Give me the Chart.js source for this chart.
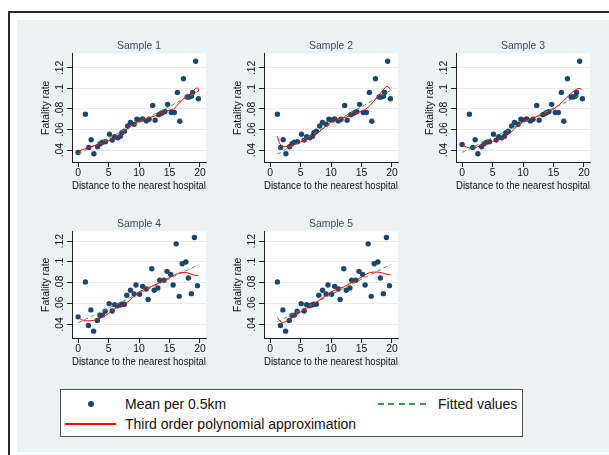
<!DOCTYPE html>
<html><head><meta charset="utf-8">
<script src="https://cdn.jsdelivr.net/npm/chart.js@4.4.0/dist/chart.umd.min.js"></script>
<style>
html,body{margin:0;padding:0;background:#fff;width:609px;height:455px;overflow:hidden;font-family:"Liberation Sans",Arial,sans-serif;}
#frame{position:absolute;left:8px;top:11px;width:640px;height:480px;border-left:2px solid #2a2a2a;border-top:2px solid #2a2a2a;}
#bg{position:absolute;left:17px;top:20px;width:600px;height:432px;background:#eaf2f3;}
canvas{position:absolute;}
#legend{position:absolute;left:60px;top:389px;width:463px;height:48px;background:#fff;border:1px solid #555;box-sizing:border-box;}
.lt{position:absolute;font-size:14px;color:#111;line-height:16px;white-space:nowrap;}
</style></head><body>
<div id="frame"></div>
<div id="bg"></div>
<canvas id="c1" width="180" height="160"></canvas>
<canvas id="c2" width="180" height="160"></canvas>
<canvas id="c3" width="180" height="160"></canvas>
<canvas id="c4" width="180" height="158"></canvas>
<canvas id="c5" width="180" height="158"></canvas>
<div id="legend">
  <div style="position:absolute;left:27px;top:11px;width:6px;height:6px;border-radius:50%;background:#1a476f;"></div>
  <div class="lt" style="left:64px;top:6px;">Mean per 0.5km</div>
  <div style="position:absolute;left:317px;top:13px;width:51px;height:1.5px;background:repeating-linear-gradient(to right,#3f9a3f 0 6px,transparent 6px 10.5px);"></div>
  <div class="lt" style="left:377px;top:6px;">Fitted values</div>
  <div style="position:absolute;left:4px;top:33px;width:51px;height:1.5px;background:#ff0000;"></div>
  <div class="lt" style="left:64px;top:26px;">Third order polynomial approximation</div>
</div>
<script>
// ---- tick labels ----
const xTickValues = [0, 5, 10, 15, 20];
const xTickLabels = ['0', '5', '10', '15', '20'];
const yTickValues = [0.04, 0.06, 0.08, 0.10, 0.12];
const yTickLabels = ['.04', '.06', '.08', '.1', '.12'];
const panelTitles = ['Sample 1', 'Sample 2', 'Sample 3', 'Sample 4', 'Sample 5'];

// ---- Sample 1 ----
const s1X = [0,1.2,1.75,2.15,2.6,3.2,3.6,4.0,4.5,5.15,5.6,6.0,6.5,6.95,7.2,7.6,8.15,8.6,9.2,9.65,10.1,10.6,11.2,11.65,12.25,12.65,13.25,13.6,13.9,14.25,14.7,15.3,15.8,16.3,16.7,17.3,17.9,18.25,18.6,18.8,19.3,19.75];
const s1Y = [0.0377,0.0748,0.0426,0.0500,0.0365,0.0432,0.0461,0.0477,0.0481,0.0555,0.0497,0.0529,0.0519,0.0535,0.0568,0.0584,0.0635,0.0668,0.0652,0.0700,0.0694,0.0703,0.0684,0.0700,0.0835,0.0690,0.0745,0.0755,0.0765,0.0774,0.0845,0.0765,0.0765,0.0961,0.0680,0.1094,0.0916,0.0916,0.0923,0.0960,0.1265,0.0900];
const poly1X = [0,1,2,3,4,5,6,7,8,9,10,11,12,13,14,15,15.7,16.5,17.5,18.5,19.2,19.6,19.8,19.6];
const poly1Y = [0.0385,0.041,0.043,0.045,0.047,0.049,0.052,0.055,0.060,0.065,0.068,0.070,0.072,0.074,0.077,0.079,0.080,0.085,0.091,0.095,0.0995,0.1005,0.0985,0.0965];
const fit1X = [0, 19.75];
const fit1Y = [0.0362, 0.0972];

// ---- Sample 2 ----
const s2X = [1.2,1.75,2.15,2.6,3.2,3.6,4.0,4.5,5.15,5.6,6.0,6.5,6.95,7.2,7.6,8.15,8.6,9.2,9.65,10.1,10.6,11.2,11.65,12.25,12.65,13.25,13.6,13.9,14.25,14.7,15.3,15.8,16.3,16.7,17.3,17.9,18.25,18.6,18.8,19.3,19.75];
const s2Y = [0.0748,0.0426,0.0500,0.0365,0.0432,0.0461,0.0477,0.0481,0.0555,0.0497,0.0529,0.0519,0.0535,0.0568,0.0584,0.0635,0.0668,0.0652,0.0700,0.0694,0.0703,0.0684,0.0700,0.0835,0.0690,0.0745,0.0755,0.0765,0.0774,0.0845,0.0765,0.0765,0.0961,0.0680,0.1094,0.0916,0.0916,0.0923,0.0960,0.1265,0.0900];
const poly2X = [1.2,1.6,2.2,2.8,3.5,4.5,5.5,6.5,7.5,8.5,9.5,10.5,11.5,12.5,13.5,14.5,15.5,16.5,17.5,18.5,19.2,19.75];
const poly2Y = [0.0535,0.046,0.0435,0.0435,0.0445,0.047,0.049,0.051,0.055,0.060,0.065,0.069,0.071,0.072,0.075,0.077,0.079,0.084,0.091,0.098,0.102,0.099];
const fit2X = [1.2, 19.75];
const fit2Y = [0.0360, 0.0980];

// ---- Sample 3 ----
const s3X = [0,1.2,1.75,2.15,2.6,3.2,3.6,4.0,4.5,5.15,5.6,6.0,6.5,6.95,7.2,7.6,8.15,8.6,9.2,9.65,10.1,10.6,11.2,11.65,12.25,12.65,13.25,13.6,13.9,14.25,14.7,15.3,15.8,16.3,16.7,17.3,17.9,18.25,18.6,18.8,19.3,19.75];
const s3Y = [0.0455,0.0748,0.0426,0.0500,0.0365,0.0432,0.0461,0.0477,0.0481,0.0555,0.0497,0.0529,0.0519,0.0535,0.0568,0.0584,0.0635,0.0668,0.0652,0.0700,0.0694,0.0703,0.0684,0.0700,0.0835,0.0690,0.0745,0.0755,0.0765,0.0774,0.0845,0.0765,0.0765,0.0961,0.0680,0.1094,0.0916,0.0916,0.0923,0.0960,0.1265,0.0900];
const poly3X = [0,0.5,1,1.5,2.5,3.5,4.5,5.5,6.5,7.5,8.5,9.5,10.5,11.5,12.5,13.5,14.5,15.5,16.5,17.5,18.5,19.2,19.75];
const poly3Y = [0.0454,0.0435,0.0425,0.0422,0.043,0.0455,0.048,0.049,0.051,0.055,0.060,0.066,0.069,0.071,0.073,0.075,0.078,0.082,0.087,0.093,0.098,0.100,0.0985];
const fit3X = [0, 19.75];
const fit3Y = [0.0378, 0.0945];

// ---- Sample 4 ----
const s4X = [0,1.2,1.7,2.1,2.55,3.15,3.6,4.0,4.45,5.1,5.6,6.0,6.45,6.9,7.2,7.6,8.0,8.6,9.2,9.5,10.1,10.6,11.2,11.5,12.1,12.5,13.1,13.4,14.1,14.6,15.2,15.6,16.1,16.6,17.1,17.7,18.1,18.6,19.1,19.6];
const s4Y = [0.0473,0.0808,0.0390,0.0540,0.0336,0.0438,0.0486,0.0490,0.0527,0.0600,0.0530,0.0591,0.0580,0.0588,0.0594,0.0594,0.0680,0.0728,0.0693,0.0779,0.0690,0.0766,0.0740,0.0640,0.0935,0.0728,0.0750,0.0824,0.0824,0.0910,0.0880,0.0779,0.1174,0.0670,0.0983,0.1000,0.0846,0.0696,0.1235,0.0773];
const poly4X = [0,0.6,1.2,2,3,4,5,6,7,8,9,10,11,12,13,14,15,16,17,18,19,19.75];
const poly4Y = [0.0467,0.0445,0.0435,0.0435,0.0445,0.047,0.0505,0.055,0.058,0.061,0.066,0.071,0.074,0.0765,0.079,0.082,0.085,0.088,0.090,0.0895,0.0875,0.0868];
const fit4X = [0, 19.75];
const fit4Y = [0.0416, 0.0973];

// ---- Sample 5 ----
const s5X = [1.2,1.7,2.1,2.55,3.15,3.6,4.0,4.45,5.1,5.6,6.0,6.45,6.9,7.2,7.6,8.0,8.6,9.2,9.5,10.1,10.6,11.2,11.5,12.1,12.5,13.1,13.4,14.1,14.6,15.2,15.6,16.1,16.6,17.1,17.7,18.1,18.6,19.1,19.6];
const s5Y = [0.0808,0.0390,0.0540,0.0336,0.0438,0.0486,0.0490,0.0527,0.0600,0.0530,0.0591,0.0580,0.0588,0.0594,0.0594,0.0680,0.0728,0.0693,0.0779,0.0690,0.0766,0.0740,0.0640,0.0935,0.0728,0.0750,0.0824,0.0824,0.0910,0.0880,0.0779,0.1174,0.0670,0.0983,0.1000,0.0846,0.0696,0.1235,0.0773];
const poly5X = [1.2,1.6,2,2.5,3,4,5,6,7,8,9,10,11,12,13,14,15,16,17,18,19,19.75];
const poly5Y = [0.0467,0.0435,0.042,0.0425,0.044,0.048,0.052,0.0555,0.059,0.063,0.067,0.071,0.074,0.076,0.079,0.082,0.0855,0.089,0.0903,0.090,0.0885,0.0875];
const fit5X = [1.2, 19.75];
const fit5Y = [0.0425, 0.0975];

// ---- layout (positions/styles only) ----
const FONT = '"Liberation Sans", Arial, sans-serif';
const layoutPanels = [
  {id:'c1', left:30,  top:36,  yMin:0.0284, yMax:0.1340},
  {id:'c2', left:222, top:36,  yMin:0.0284, yMax:0.1340},
  {id:'c3', left:414, top:36,  yMin:0.0284, yMax:0.1340},
  {id:'c4', left:30,  top:214, yMin:0.0270, yMax:0.1293},
  {id:'c5', left:222, top:214, yMin:0.0270, yMax:0.1293}
];
const seriesSets = [
  [s1X,s1Y,poly1X,poly1Y,fit1X,fit1Y],
  [s2X,s2Y,poly2X,poly2Y,fit2X,fit2Y],
  [s3X,s3Y,poly3X,poly3Y,fit3X,fit3Y],
  [s4X,s4Y,poly4X,poly4Y,fit4X,fit4Y],
  [s5X,s5Y,poly5X,poly5Y,fit5X,fit5Y]
];

const zip = (xs, ys) => xs.map((x, i) => ({x: x, y: ys[i]}));

const plotBg = {
  id: 'plotBg',
  beforeDraw(chart) {
    const a = chart.chartArea, ctx = chart.ctx;
    ctx.save(); ctx.fillStyle = '#ffffff';
    ctx.fillRect(a.left, a.top, a.right - a.left, a.bottom - a.top);
    ctx.restore();
  }
};

layoutPanels.forEach((p, k) => {
  const cv = document.getElementById(p.id);
  cv.style.left = p.left + 'px'; cv.style.top = p.top + 'px';
  const [px, py, lx, ly, fx, fy] = seriesSets[k];
  const tickFont = {family: FONT, size: 10.4};
  new Chart(cv, {
    type: 'scatter',
    data: {
      datasets: [
        {data: zip(lx, ly), showLine: true, borderColor: '#ff0000', borderWidth: 1, pointRadius: 0, tension: 0.35, order: 0},
        {data: zip(fx, fy), showLine: true, borderColor: '#3f9a3f', borderWidth: 1, borderDash: [4, 3], pointRadius: 0, order: 1},
        {data: zip(px, py), pointRadius: 2.7, pointBackgroundColor: '#1a476f', pointBorderWidth: 0, order: 2}
      ]
    },
    options: {
      responsive: false, animation: false, devicePixelRatio: 1,
      layout: {padding: {left: 0, right: 3, top: 0, bottom: 0}},
      plugins: {
        legend: {display: false}, tooltip: {enabled: false},
        title: {display: true, text: panelTitles[k], fullSize: false, color: '#3c4b5e',
                font: {family: FONT, size: 10.4, weight: 'normal'}, padding: {top: 4, bottom: 1}}
      },
      scales: {
        x: {
          type: 'linear', min: -1, max: 21,
          afterBuildTicks: s => { s.ticks = xTickValues.map(v => ({value: v})); },
          afterFit: s => { s.height = 34; },
          ticks: {autoSkip: false, maxRotation: 0, minRotation: 0, padding: 0, font: tickFont, color: '#111',
                  callback: (v, i) => xTickLabels[i]},
          grid: {drawOnChartArea: false, drawTicks: true, tickLength: 5, tickColor: '#222', tickWidth: 1},
          border: {display: true, color: '#222', width: 1},
          title: {display: true, text: 'Distance to the nearest hospital', color: '#111',
                  font: tickFont, padding: {top: 0, bottom: 4}}
        },
        y: {
          type: 'linear', min: p.yMin, max: p.yMax,
          afterBuildTicks: s => { s.ticks = yTickValues.map(v => ({value: v})); },
          afterFit: s => { s.width = 42; },
          ticks: {autoSkip: false, minRotation: 90, maxRotation: 90, crossAlign: 'center', padding: 0,
                  font: tickFont, color: '#111', callback: (v, i) => yTickLabels[i]},
          grid: {color: '#e3ebed', lineWidth: 1, drawTicks: true, tickLength: 5, tickColor: '#222'},
          border: {display: true, color: '#222', width: 1},
          title: {display: true, text: 'Fatality rate', color: '#111', font: tickFont, padding: {top: 10, bottom: 0}}
        }
      }
    },
    plugins: [plotBg]
  });
});
</script>
</body></html>
